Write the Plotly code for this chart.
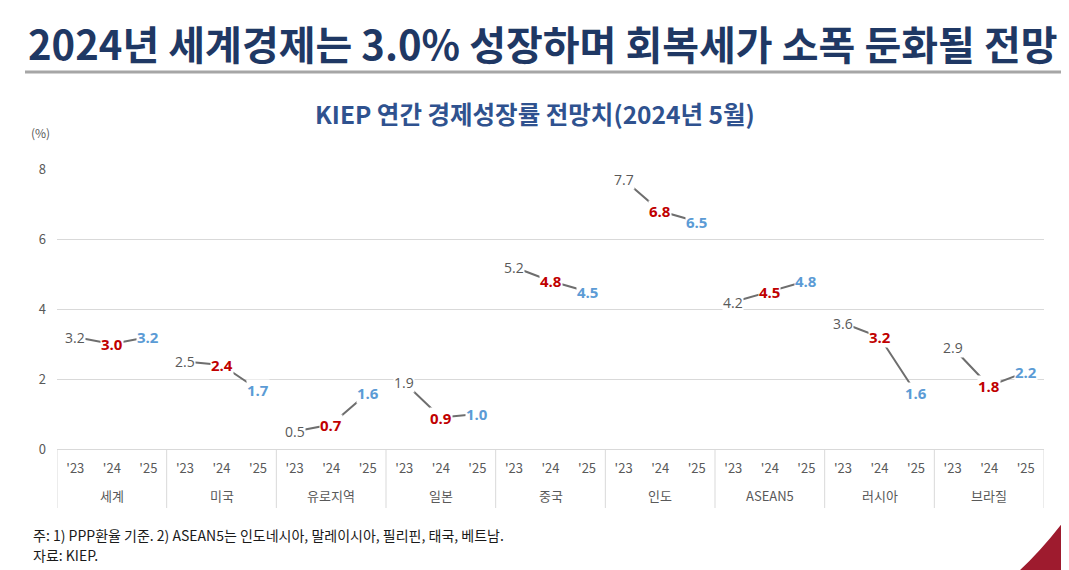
import plotly.graph_objects as go

countries = ["세계", "미국", "유로지역", "일본", "중국", "인도", "ASEAN5", "러시아", "브라질"]
years = ["'23", "'24", "'25"]
v23 = [3.2, 2.5, 0.5, 1.9, 5.2, 7.7, 4.2, 3.6, 2.9]
v24 = [3.0, 2.4, 0.7, 0.9, 4.8, 6.8, 4.5, 3.2, 1.8]
v25 = [3.2, 1.7, 1.6, 1.0, 4.5, 6.5, 4.8, 1.6, 2.2]
y_ticks = [0, 2, 4, 6, 8]

W, H = 1069, 570
OFF = 8  # page body margin offset of the plot div
L, R, T, B = 57 - OFF, 1044 - OFF, 169 - OFF, 449 - OFF


def px(x):
    return (x - OFF - L) / (R - L)


def py(y):
    return (B - (y - OFF)) / (B - T)


fig = go.Figure()

label_styles = [
    dict(color="#595959", size=14, bold=False),
    dict(color="#c00000", size=15, bold=True),
    dict(color="#5b9bd5", size=15, bold=True),
]
num_family = "Open Sans, Noto Sans CJK KR"

n_years = len(years)
tick_pos = []
tick_txt = []
annotations = []
shapes = []
for i, c in enumerate(countries):
    vals = [v23[i], v24[i], v25[i]]
    xs = [i * n_years + j for j in range(n_years)]
    tick_pos += xs
    tick_txt += years
    fig.add_trace(go.Scatter(
        x=xs, y=vals, mode="lines",
        line=dict(color="#6e6e6e", width=2),
        showlegend=False, hoverinfo="skip",
    ))
    for j, v in enumerate(vals):
        st = label_styles[j]
        txt = f"{v:.1f}"
        if st["bold"]:
            txt = f"<b>{txt}</b>"
        annotations.append(dict(
            x=xs[j], y=v, xref="x", yref="y", text=txt, showarrow=False,
            bgcolor="white", borderpad=0,
            font=dict(color=st["color"], size=st["size"], family=num_family),
        ))
    annotations.append(dict(
        x=xs[1], y=py(495), xref="x", yref="paper", text=c, showarrow=False,
        font=dict(size=13, color="#595959", family="Noto Sans CJK KR"),
        xanchor="center", yanchor="middle",
    ))
    shapes.append(dict(type="line", xref="x", yref="paper",
                       x0=xs[0] - 0.5, x1=xs[0] - 0.5, y0=py(449), y1=py(508),
                       line=dict(color="#d9d9d9", width=1)))
shapes.append(dict(type="line", xref="x", yref="paper",
                   x0=tick_pos[-1] + 0.5, x1=tick_pos[-1] + 0.5, y0=py(449), y1=py(508),
                   line=dict(color="#d9d9d9", width=1)))

annotations += [
    dict(x=px(542), y=py(43), xref="paper", yref="paper", showarrow=False,
         text="<b>2024년 세계경제는 3.0% 성장하며 회복세가 소폭 둔화될 전망</b>",
         font=dict(size=40, color="#1f3864", family="Noto Sans CJK KR"),
         xanchor="center", yanchor="middle"),
    dict(x=px(535), y=py(113), xref="paper", yref="paper", showarrow=False,
         text="<b>KIEP 연간 경제성장률 전망치(2024년 5월)</b>",
         font=dict(size=24.5, color="#2f528f", family="Noto Sans CJK KR"),
         xanchor="center", yanchor="middle"),
    dict(x=px(40), y=py(132), xref="paper", yref="paper", showarrow=False,
         text="(%)", font=dict(size=12, color="#595959", family="Noto Sans CJK KR"),
         xanchor="center", yanchor="middle"),
    dict(x=px(31), y=py(535), xref="paper", yref="paper", showarrow=False,
         text="주: 1) PPP환율 기준. 2) ASEAN5는 인도네시아, 말레이시아, 필리핀, 태국, 베트남.",
         font=dict(size=14, color="#1a1a1a", family="Noto Sans CJK KR"),
         xanchor="left", yanchor="middle"),
    dict(x=px(31), y=py(555), xref="paper", yref="paper", showarrow=False,
         text="자료: KIEP.",
         font=dict(size=14, color="#1a1a1a", family="Noto Sans CJK KR"),
         xanchor="left", yanchor="middle"),
]

shapes += [
    dict(type="line", xref="paper", yref="paper",
         x0=px(25), x1=px(1075), y0=py(72), y1=py(72),
         line=dict(color="#a6a6a6", width=3)),
    dict(type="path", xref="paper", yref="paper",
         path=f"M {px(1018)} {py(572)} Q {px(1046)} {py(546)} {px(1072)} {py(510)} "
              f"L {px(1072)} {py(572)} Z",
         fillcolor="#9e1b2e", line=dict(width=0)),
]

fig.update_layout(
    width=W, height=H,
    margin=dict(l=L, r=W - R, t=T, b=H - B),
    paper_bgcolor="white", plot_bgcolor="white",
    annotations=annotations, shapes=shapes,
    font=dict(family="Noto Sans CJK KR", color="#595959"),
    xaxis=dict(
        tickvals=tick_pos, ticktext=tick_txt,
        showline=True, linecolor="#d9d9d9", linewidth=1,
        showgrid=False, zeroline=False, ticks="",
        tickfont=dict(size=13, color="#595959", family="Noto Sans CJK KR"),
        ticklabelstandoff=7,
        range=[-0.5, tick_pos[-1] + 0.5],
        automargin=False,
    ),
    yaxis=dict(
        range=[0, 8], tickvals=y_ticks,
        showgrid=True, gridcolor="#d9d9d9", gridwidth=1,
        zeroline=False, showline=False, ticks="",
        tickfont=dict(size=13, color="#595959", family="Noto Sans CJK KR"),
        ticklabelstandoff=10,
        automargin=False,
    ),
)

fig.write_html("out.html")
